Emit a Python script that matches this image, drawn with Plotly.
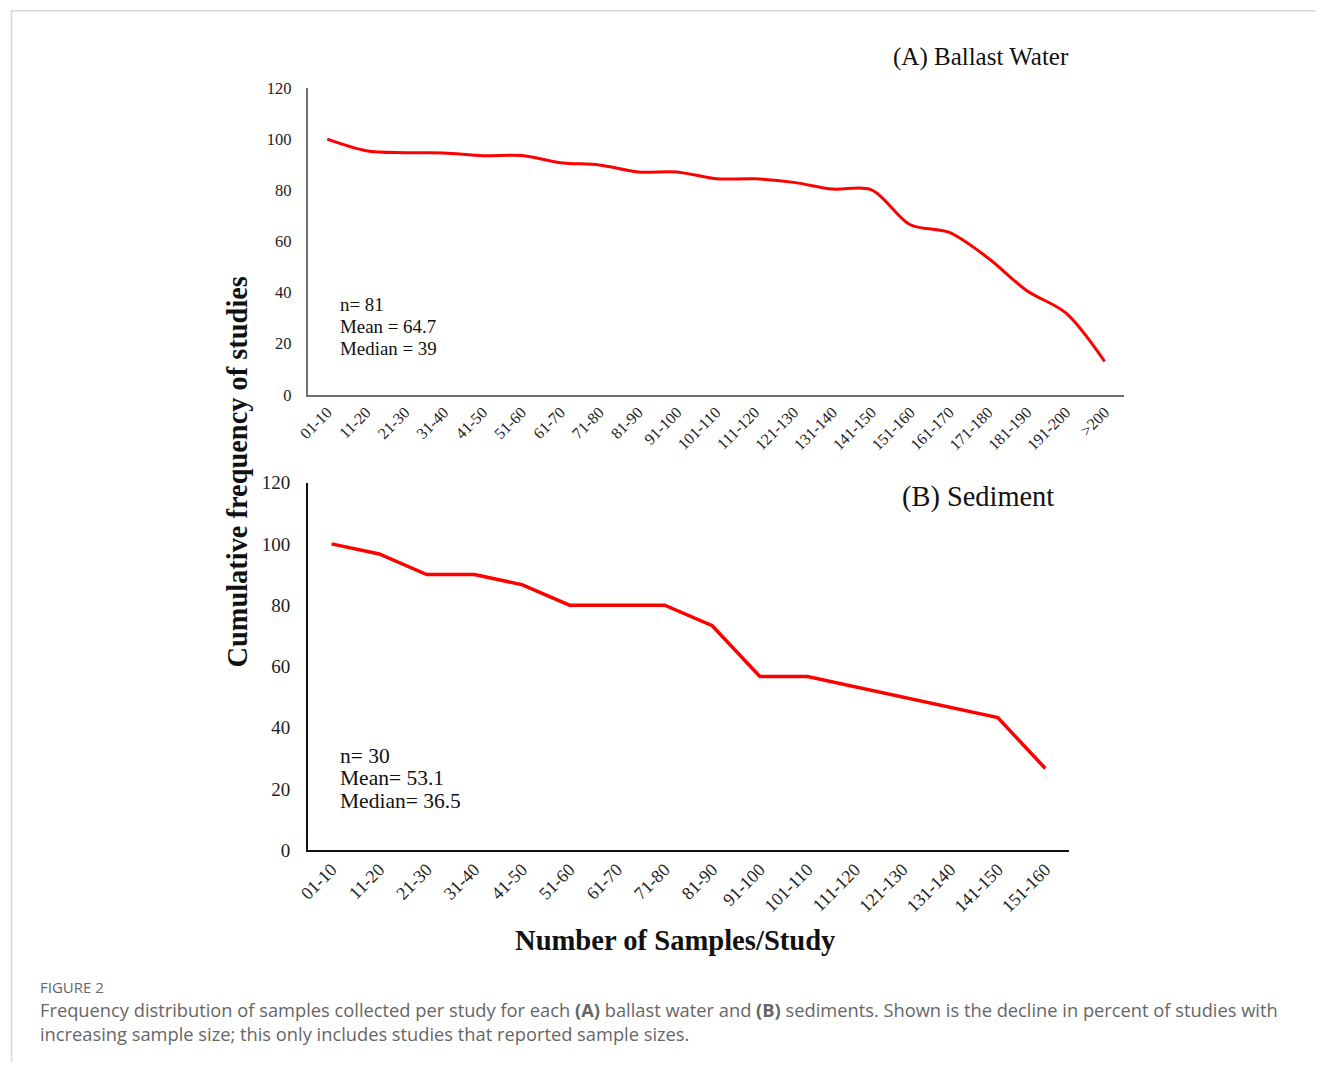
import plotly.graph_objects as go

# Cumulative frequency (% of studies) by samples-per-study class
ballast_classes = ["01-10", "11-20", "21-30", "31-40", "41-50", "51-60", "61-70",
                   "71-80", "81-90", "91-100", "101-110", "111-120", "121-130",
                   "131-140", "141-150", "151-160", "161-170", "171-180",
                   "181-190", "191-200", ">200"]
ballast_pct = [100, 95.5, 94.7, 94.6, 93.5, 93.6, 90.8, 89.9, 87.2, 87.2, 84.5,
               84.5, 83.1, 80.5, 80.2, 66.5, 63.5, 53.5, 40.7, 32.0, 13.0]

sediment_classes = ["01-10", "11-20", "21-30", "31-40", "41-50", "51-60", "61-70",
                    "71-80", "81-90", "91-100", "101-110", "111-120", "121-130",
                    "131-140", "141-150", "151-160"]
sediment_pct = [100, 96.7, 90, 90, 86.7, 80, 80, 80, 73.3, 56.7, 56.7, 53.3,
                50, 46.7, 43.3, 26.7]

y_ticks = [0, 20, 40, 60, 80, 100, 120]

ballast_stats = ["n= 81", "Mean = 64.7", "Median = 39"]
sediment_stats = ["n= 30", "Mean= 53.1", "Median= 36.5"]

# Layout positions are given in the coordinates of the final 1322 x 1069
# picture; SX/SY and OX/OY convert them to page pixels, PAD is the body margin.
SX, SY = 0.9925, 0.9815
OX, OY = 2.0, 2.0
PAD = 8
W = round(1322 / SX) - 2 * PAD
H = round(1069 / SY) - 2 * PAD


def fx(px):
    return ((px - OX) / SX - PAD) / W


def fy(px):
    return 1 - ((px - OY) / SY - PAD) / H


SERIF = "Liberation Serif, Times New Roman, serif"
SANS = "Open Sans, Noto Sans, sans-serif"

fig = go.Figure()

fig.add_trace(go.Scatter(
    x=ballast_classes, y=ballast_pct, mode="lines",
    line=dict(color="#ff0000", width=3, shape="spline", smoothing=0.9),
    xaxis="x", yaxis="y", showlegend=False, hoverinfo="x+y"))

fig.add_trace(go.Scatter(
    x=sediment_classes, y=sediment_pct, mode="lines",
    line=dict(color="#ff0000", width=3.5),
    xaxis="x2", yaxis="y2", showlegend=False, hoverinfo="x+y"))

fig.update_layout(
    width=W, height=H,
    margin=dict(l=0, r=0, t=0, b=0),
    paper_bgcolor="white", plot_bgcolor="white",
    font=dict(family=SERIF, color="#222"),
    xaxis=dict(
        domain=[fx(307), fx(1124)], anchor="y",
        type="category", categoryorder="array", categoryarray=ballast_classes,
        range=[-0.5, len(ballast_classes) - 0.5],
        showline=True, linecolor="#707070", linewidth=2,
        showgrid=False, zeroline=False, ticks="",
        tickangle=-45, tickfont=dict(family=SERIF, size=16, color="#222"),
        fixedrange=True),
    yaxis=dict(
        domain=[fy(395), fy(88)], anchor="x",
        range=[0, 120], tickvals=y_ticks,
        showline=True, linecolor="#707070", linewidth=2,
        showgrid=False, zeroline=False, ticks="", ticklabelstandoff=11,
        tickfont=dict(family=SERIF, size=16.5, color="#222"),
        fixedrange=True),
    xaxis2=dict(
        domain=[fx(307), fx(1069)], anchor="y2",
        type="category", categoryorder="array", categoryarray=sediment_classes,
        range=[-0.5, len(sediment_classes) - 0.5],
        showline=True, linecolor="#111", linewidth=1.5,
        showgrid=False, zeroline=False, ticks="",
        tickangle=-45, tickfont=dict(family=SERIF, size=18, color="#222"),
        fixedrange=True),
    yaxis2=dict(
        domain=[fy(851), fy(483)], anchor="x2",
        range=[0, 120], tickvals=y_ticks,
        showline=True, linecolor="#111", linewidth=1.5,
        showgrid=False, zeroline=False, ticks="", ticklabelstandoff=12,
        tickfont=dict(family=SERIF, size=19, color="#222"),
        fixedrange=True),
)

annotations = [
    # panel titles
    dict(text="(A) Ballast Water", x=fx(1071), y=fy(57), xanchor="right",
         yanchor="middle", font=dict(family=SERIF, size=25, color="#111")),
    dict(text="(B) Sediment", x=fx(1056), y=fy(497), xanchor="right",
         yanchor="middle", font=dict(family=SERIF, size=28.4, color="#111")),
    # shared axis titles
    dict(text="<b>Cumulative frequency of studies</b>", x=fx(237), y=fy(472),
         xanchor="center", yanchor="middle", textangle=-90,
         font=dict(family=SERIF, size=28.4, color="#111")),
    dict(text="<b>Number of Samples/Study</b>", x=fx(675), y=fy(941),
         xanchor="center", yanchor="middle",
         font=dict(family=SERIF, size=28.6, color="#111")),
    # caption
    dict(text="FIGURE 2", x=fx(37), y=fy(988), xanchor="left", yanchor="middle",
         font=dict(family=SANS, size=15, color="#666")),
    dict(text=("Frequency distribution of samples collected per study for each "
               "<b>(A)</b> ballast water and <b>(B)</b> sediments. Shown is the "
               "decline in percent of studies with<br>increasing sample size; "
               "this only includes studies that reported sample sizes."),
         x=fx(37), y=fy(1022), xanchor="left", yanchor="middle", align="left",
         font=dict(family=SANS, size=18.3, color="#666")),
]

# summary statistics, one line per annotation
for txt, ypx in zip(ballast_stats, [305, 327, 349]):
    annotations.append(dict(text=txt, x=fx(337), y=fy(ypx), xanchor="left",
                            yanchor="middle",
                            font=dict(family=SERIF, size=18.9, color="#111")))
for txt, ypx in zip(sediment_stats, [757, 779, 802]):
    annotations.append(dict(text=txt, x=fx(337), y=fy(ypx), xanchor="left",
                            yanchor="middle",
                            font=dict(family=SERIF, size=21.5, color="#111")))

for a in annotations:
    a.update(xref="paper", yref="paper", showarrow=False)
fig.update_layout(annotations=annotations)

# light page frame around the figure
fig.update_layout(shapes=[
    dict(type="line", xref="paper", yref="paper", x0=fx(10), x1=1,
         y0=fy(10.5), y1=fy(10.5), line=dict(color="#d8d8d8", width=1.5)),
    dict(type="line", xref="paper", yref="paper", x0=fx(10.5), x1=fx(10.5),
         y0=0, y1=fy(10), line=dict(color="#d8d8d8", width=1.5)),
])

fig.write_html("out.html", config={"displayModeBar": False})
